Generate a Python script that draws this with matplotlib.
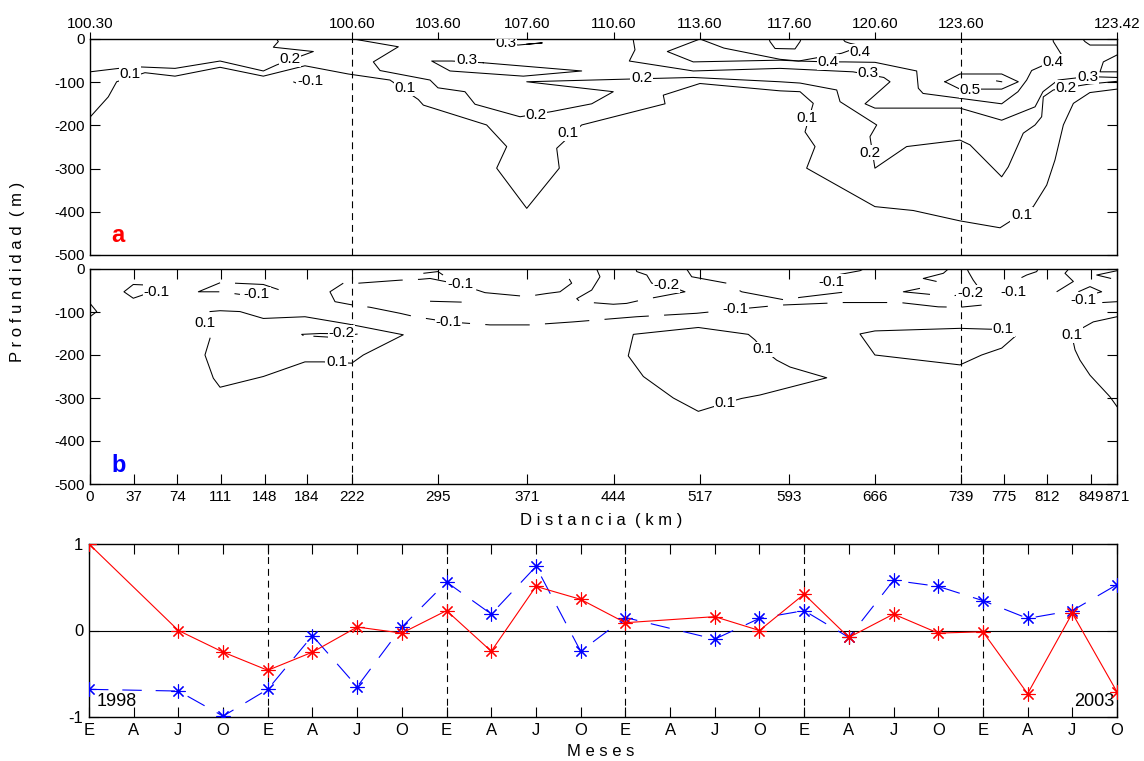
import matplotlib
matplotlib.use('Agg')
import matplotlib.pyplot as plt

plt.rcParams['font.family'] = ['Liberation Sans', 'DejaVu Sans']
plt.rcParams['lines.scale_dashes'] = False

# ---------------- axes data ----------------
dist_ticks = [0, 37, 74, 111, 148, 184, 222, 295, 371, 444, 517, 593, 666, 739, 775, 812, 849, 871]
station_ticks = [0, 222, 295, 371, 444, 517, 593, 666, 739, 871]
station_labels = ['100.30', '100.60', '103.60', '107.60', '110.60', '113.60',
                  '117.60', '120.60', '123.60', '123.42']
depth_ticks = [0, -100, -200, -300, -400, -500]
ref_lines_km = [222, 739]

# ---------------- panel a contours (km, m) ----------------
a1_lev = 0.1
a1_x = [0, 15.5, 22.6, 46.6, 72.1, 110.3, 147, 182.3, 219, 254.4, 278.4, 282.7, 336.4, 353.4, 344.9,
        370.4, 398, 395.8, 417, 487.7, 486.2, 517.3, 585.2, 602.2, 613.4, 606.4, 614.9, 607.8, 665.7,
        698.2, 737.8, 771.8, 800, 811.4, 818.4, 825.5, 834, 848, 871]
a1_y = [-181, -134, -99, -78, -86, -65.5, -86, -62, -81, -95, -140, -153, -199, -249, -299,
        -392, -299, -253, -199, -150, -130, -103, -120, -122, -149, -215, -249, -299, -388,
        -397, -421, -437, -388, -338, -280, -199, -149, -124, -116]
a2_lev = 0.2
a2_x = [0, 36.7, 72.1, 110.3, 147, 158.3, 189.4, 155.5, 159.7, 158.3]
a2_y = [-76, -64, -68, -51, -74, -60, -29, -19, -6, 0]
a3_lev = -0.1
a3_x = [172.4, 183.8, 192.3]
a3_y = [-99, -112, -106]
a4_lev = 0.2
a4_x = [223.3, 261.5, 240.3, 246, 288.4, 295.1, 318, 326.5, 364.7, 391.6, 425.5, 443.8, 370.4, 453.7,
        482, 511.4, 585.2, 602.2, 633.3, 636.1, 667.2, 661.5, 665.7, 692.6, 737.8, 746.3, 773.2,
        778.8, 791.5, 801.5, 807.1, 808.5, 817, 848.1, 871]
a4_y = [0, -18, -53, -73, -95, -113, -122, -151, -180, -168, -150, -122, -99, -93,
        -91, -89, -99, -102, -118, -145, -199, -226, -299, -249, -234, -245, -319,
        -296, -218, -199, -180, -134, -118, -104, -98]
a5_lev = 0.3
a5_x = [333.6, 417, 367.5, 305.3, 289.8, 306.8, 333.6]
a5_y = [-55, -74, -86, -74, -51, -51, -55]
a6_lev = 0.3
a6_x = [352, 363.2, 383.6, 370.4]
a6_y = [-10, -14, -9, -12]
a7_lev = 0.3
a7_x = [460.6, 462.2, 457.4, 511.6, 585.2, 647.1, 673.2, 678.5, 657.3, 665.7, 737.8, 773.2, 801.5,
        808.2, 821, 846.4, 871]
a7_y = [0, -25, -51, -74, -68, -76, -89, -99, -150, -160, -160, -188, -157, -122, -95, -87, -89]
a8_lev = 0.4
a8_x = [517.3, 489.6, 511.6, 585.2, 601, 626, 640.3, 665.7, 701.1, 702.5, 706.5, 773.2, 787,
        794.4, 798.6, 816.7, 824.1, 817, 816.7]
a8_y = [0, -29, -53, -49, -51, -53, -53, -54, -74, -114, -126, -150, -122, -95, -73, -51, -37, -6, 0]
a9_lev = 0.4
a9_x = [517.3, 537.6, 585.2, 601, 637.5, 654.7, 644.5, 640.3, 638.6]
a9_y = [0, -21, -47, -51, -33, -16, -10, -6, 0]
a10_lev = 0.4
a10_x = [576, 576.7, 581, 597.9, 602.2, 603]
a10_y = [0, -6, -22, -23, -6, 0]
a11_lev = 0.5
a11_x = [725.1, 737.8, 773.2, 787.3, 773.2, 737.8, 725.1]
a11_y = [-99, -81, -81, -99, -116, -116, -99]
a12_lev = 0.5
a12_x = [768.9, 773.2]
a12_y = [-97, -99]
a13_lev = 0.4
a13_x = [842, 843.8, 848.1, 871]
a13_y = [0, -6, -14, -14]
a14_lev = 0.4
a14_x = [871, 859.4, 856.6, 871]
a14_y = [-37, -53, -76, -76]

a_lab_x = [33.9, 169.6, 186.6, 267.2, 352.8, 319.5, 378.3, 405.7, 467.9, 626, 653, 659.8,
           608, 661.5, 746.3, 816.7, 846, 828, 790.2]
a_lab_y = [-81, -47, -97, -113, -9, -49, -176, -217, -90, -53, -29, -78,
           -183, -263, -118, -53, -87, -114, -407]
a_lab_t = ['0.1', '0.2', '-0.1', '0.1', '0.3', '0.3', '0.2', '0.1', '0.2', '0.4', '0.4', '0.3',
           '0.1', '0.2', '0.5', '0.4', '0.3', '0.2', '0.1']

# ---------------- panel b contours (km, m) ----------------
b1_lev = -0.1
b1_x = [45.2, 36.7, 28.8, 36.7, 45.2]
b1_y = [-37, -36, -53, -68, -60]
b2_lev = -0.1
b2_x = [110.3, 91.9, 110.3, 127.2]
b2_y = [-32, -53, -53, -59]
b3_lev = -0.1
b3_x = [123, 147, 161.1]
b3_y = [-33, -36, -49]
b4_lev = 0.1
b4_x = [101.8, 97.5, 104.6, 110.3, 147, 182.3, 197.9, 222, 231.8, 265.7, 219, 182.3, 147, 127.2, 110.3, 101.8]
b4_y = [-161, -200, -254, -275, -250, -216, -216, -219, -200, -153, -128, -111, -115, -99, -97, -99]
b5_lev = -0.2
b5_x = [181, 179.5, 195.1, 227.6, 206.3, 181]
b5_y = [-155, -152, -150, -151, -159, -155]
b6_lev = 0.1
b6_x = [0, 5.7, 0]
b6_y = [-80, -99, -111]
b7_lev = -0.1
b7_x = [214.8, 203.5, 207.8, 223.3, 237.5, 262.9, 275.6, 303.9, 339.2, 373.2, 409.9, 463.7, 514.5,
        547, 585.2, 638.9, 687, 719.4, 737.8, 756.2]
b7_y = [-33, -53, -76, -84, -89, -103, -111, -123, -130, -130, -123, -111, -103,
        -94, -84, -78, -78, -88, -89, -84]
b8_lev = -0.1
b8_x = [227.6, 262.9, 279.9, 288.4, 313.8, 335, 370.3, 387.3, 398.6, 408.5, 402.8, 403]
b8_y = [-33, -26, -24, -22, -36, -55, -64, -57, -53, -33, -6, 0]
b9_lev = -0.2
b9_x = [429.7, 432.5, 425.5, 412.8, 415.6, 443.8, 455.1, 467.9, 504.6, 489, 476.4, 472.2, 463.7, 463]
b9_y = [0, -18, -49, -69, -76, -82, -80, -72, -53, -37, -33, -14, -6, 0]
b10_lev = -0.1
b10_x = [506, 510.3, 540, 552.7, 589.4, 602.2, 641.7, 629, 633.3, 653, 656]
b10_y = [0, -18, -33, -53, -72, -66, -53, -30, -14, -4, 0]
b11_lev = -0.1
b11_x = [703.9, 689.8, 712.4]
b11_y = [-45, -53, -59]
b12_lev = -0.1
b12_x = [727.9, 723.7, 706.7, 718]
b12_y = [0, -10, -22, -29]
b13_lev = -0.2
b13_x = [744, 744.9, 749.1, 752, 746.3, 737.8, 727.9]
b13_y = [0, -6, -26, -37, -55, -60, -64]
b14_lev = -0.1
b14_x = [790, 794.4, 802.9, 804]
b14_y = [-20, -14, -6, 0]
b15_lev = -0.1
b15_x = [819.8, 834, 826.9, 830]
b15_y = [-53, -29, -10, 0]
b16_lev = -0.1
b16_x = [838.2, 848.1, 858, 848.1, 838.2]
b16_y = [-53, -41, -53, -60, -53]
b17_lev = -0.1
b17_x = [858.5, 871]
b17_y = [-78, -76]
b18_lev = -0.1
b18_x = [871, 853.8, 866]
b18_y = [-4, -14, -22]
b19_lev = -0.1
b19_x = [282.7, 295.1, 299.4]
b19_y = [-10, -6, -14]
b20_lev = -0.2
b20_x = [288.4, 315.2]
b20_y = [-75, -77]
b21_lev = 0.1
b21_x = [571, 582.4, 593.7, 624.8, 568.2, 552.7, 538.5, 515.9, 494.7, 469.3, 456.5, 460.8, 515.9, 558.3, 564, 571]
b21_y = [-187, -212, -228, -253, -293, -301, -312, -331, -300, -250, -202, -152, -136, -152, -165, -187]
b22_lev = 0.1
b22_x = [774.6, 784.5, 773.2, 756.2, 737.8, 665.7, 653, 665.7, 737.8, 763.3, 774.6]
b22_y = [-140, -157, -184, -200, -223, -200, -151, -144, -138, -140, -140]
b23_lev = 0.1
b23_x = [871, 850.9, 841.1, 832.6, 835.4, 839.6, 848.1, 865, 871]
b23_y = [-111, -123, -138, -153, -188, -212, -247, -297, -320]

b_lab_x = [56.5, 141.4, 97.5, 213.4, 209.2, 313.8, 303.9, 489, 547, 571, 538.5, 629, 746.3,
           783.2, 842.4, 774.6, 832.6]
b_lab_y = [-53, -59, -126, -148, -216, -36, -123, -37, -94, -187, -312, -30, -55,
           -53, -72, -140, -153]
b_lab_t = ['-0.1', '-0.1', '0.1', '-0.2', '0.1', '-0.1', '-0.1', '-0.2', '-0.1', '0.1', '0.1',
           '-0.1', '-0.2', '-0.1', '-0.1', '0.1', '0.1']

# ---------------- panel c: monthly series ----------------
month_labels = ['E', 'A', 'J', 'O'] * 6
year_start_idx = [4, 8, 12, 16, 20]
red_idx = [0, 2, 3, 4, 5, 6, 7, 8, 9, 10, 11, 12, 14, 15, 16, 17, 18, 19, 20, 21, 22, 23]
red_val = [1.0, 0.0, -0.25, -0.46, -0.25, 0.04, -0.03, 0.23, -0.24, 0.51, 0.36, 0.09,
           0.16, 0.0, 0.42, -0.08, 0.19, -0.03, -0.015, -0.73, 0.2, -0.71]
blue_idx = [0, 2, 3, 4, 5, 6, 7, 8, 9, 10, 11, 12, 14, 15, 16, 17, 18, 19, 20, 21, 22, 23]
blue_val = [-0.68, -0.70, -0.99, -0.68, -0.06, -0.65, 0.04, 0.56, 0.19, 0.74, -0.24, 0.15,
            -0.1, 0.14, 0.23, -0.08, 0.58, 0.51, 0.345, 0.14, 0.23, 0.53]

a_lines = [(a1_lev, a1_x, a1_y), (a2_lev, a2_x, a2_y), (a3_lev, a3_x, a3_y), (a4_lev, a4_x, a4_y),
           (a5_lev, a5_x, a5_y), (a6_lev, a6_x, a6_y), (a7_lev, a7_x, a7_y), (a8_lev, a8_x, a8_y),
           (a9_lev, a9_x, a9_y), (a10_lev, a10_x, a10_y), (a11_lev, a11_x, a11_y),
           (a12_lev, a12_x, a12_y), (a13_lev, a13_x, a13_y), (a14_lev, a14_x, a14_y)]
b_lines = [(b1_lev, b1_x, b1_y), (b2_lev, b2_x, b2_y), (b3_lev, b3_x, b3_y), (b4_lev, b4_x, b4_y),
           (b5_lev, b5_x, b5_y), (b6_lev, b6_x, b6_y), (b7_lev, b7_x, b7_y), (b8_lev, b8_x, b8_y),
           (b9_lev, b9_x, b9_y), (b10_lev, b10_x, b10_y), (b11_lev, b11_x, b11_y),
           (b12_lev, b12_x, b12_y), (b13_lev, b13_x, b13_y), (b14_lev, b14_x, b14_y),
           (b15_lev, b15_x, b15_y), (b16_lev, b16_x, b16_y), (b17_lev, b17_x, b17_y),
           (b18_lev, b18_x, b18_y), (b19_lev, b19_x, b19_y), (b20_lev, b20_x, b20_y),
           (b21_lev, b21_x, b21_y), (b22_lev, b22_x, b22_y), (b23_lev, b23_x, b23_y)]

# ---------------- drawing ----------------
W, H = 1144, 761
fig = plt.figure(figsize=(W / 100, H / 100), dpi=100)
ax_a = fig.add_axes([90 / W, 1 - 255 / H, 1027 / W, 216 / H])
ax_b = fig.add_axes([90 / W, 1 - 484 / H, 1027 / W, 215 / H])
ax_c = fig.add_axes([89 / W, 1 - 717 / H, 1028 / W, 173 / H])

NEG_DASH = (0, (32, 11))
VDASH = (0, (5, 3.5))
FS = 11


def style_contour_axes(ax):
    ax.set_xlim(0, 871)
    ax.set_ylim(-500, 0)
    ax.set_yticks(depth_ticks)
    ax.set_yticklabels([str(v) for v in depth_ticks], fontsize=FS)
    ax.tick_params(axis='y', direction='in', left=True, right=True, length=7, width=0.8, pad=4)
    for s in ax.spines.values():
        s.set_linewidth(1.0)
    for km in ref_lines_km:
        ax.axvline(km, color='black', lw=0.8, ls=VDASH, zorder=1)


def draw_lines(ax, lines, labx, laby, labt):
    for lev, xs, ys in lines:
        ax.plot(xs, ys, color='black', lw=0.75, ls=('-' if lev > 0 else NEG_DASH), zorder=2)
    for x, y, t in zip(labx, laby, labt):
        ax.text(x, y, t, ha='center', va='center', fontsize=FS, zorder=3, clip_on=True,
                bbox=dict(boxstyle='square,pad=0.05', fc='white', ec='none'))


# panel a
style_contour_axes(ax_a)
ax_a.xaxis.tick_top()
ax_a.set_xticks(station_ticks)
ax_a.set_xticklabels(station_labels, fontsize=FS)
ax_a.tick_params(axis='x', direction='out', top=True, bottom=False, labeltop=True,
                 labelbottom=False, length=5, width=0.8, pad=1)
draw_lines(ax_a, a_lines, a_lab_x, a_lab_y, a_lab_t)
ax_a.text(18.4, -469, 'a', color='red', fontsize=17, fontweight='bold', ha='left', va='baseline')

# panel b
style_contour_axes(ax_b)
ax_b.set_xticks(dist_ticks)
ax_b.set_xticklabels([str(v) for v in dist_ticks], fontsize=FS)
ax_b.tick_params(axis='x', direction='in', top=True, bottom=True, length=7, width=0.8, pad=4)
draw_lines(ax_b, b_lines, b_lab_x, b_lab_y, b_lab_t)
ax_b.text(18.4, -471, 'b', color='blue', fontsize=17, fontweight='bold', ha='left', va='baseline')

# panel c
ax_c.set_xlim(0, 23)
ax_c.set_ylim(-1, 1)
ax_c.axhline(0, color='black', lw=0.8, zorder=1)
for xi in year_start_idx:
    ax_c.axvline(xi, color='black', lw=0.8, ls=VDASH, zorder=1)
ax_c.plot(blue_idx, blue_val, color='blue', lw=0.8, ls=(0, (14, 10)), marker=(8, 2, 0),
          ms=10, mew=0.8, zorder=3)
ax_c.plot(red_idx, red_val, color='red', lw=0.8, ls='-', marker=(8, 2, 0),
          ms=10, mew=0.8, zorder=4)
ax_c.set_xticks(range(len(month_labels)))
ax_c.set_xticklabels(month_labels, fontsize=FS + 1)
ax_c.set_yticks([-1, 0, 1])
ax_c.set_yticklabels(['-1', '0', '1'], fontsize=FS + 1)
ax_c.tick_params(axis='both', direction='in', top=True, right=True, length=7, width=0.8, pad=4)
for s in ax_c.spines.values():
    s.set_linewidth(1.0)
ax_c.text(0.17, -0.87, '1998', fontsize=13, ha='left', va='baseline')
ax_c.text(22.95, -0.87, '2003', fontsize=13, ha='right', va='baseline')

# axis titles (letter-spaced as in the original)
fig.text(18 / W, 1 - 272 / H, 'P r o f u n d i d a d  ( m )', rotation=90,
         ha='center', va='center', fontsize=12)
fig.text(601 / W, 1 - 520 / H, 'D i s t a n c i a  ( k m )', ha='center', va='center', fontsize=12)
fig.text(601 / W, 1 - 752 / H, 'M e s e s', ha='center', va='center', fontsize=12)

fig.savefig('out.png', dpi=100, facecolor='white')
